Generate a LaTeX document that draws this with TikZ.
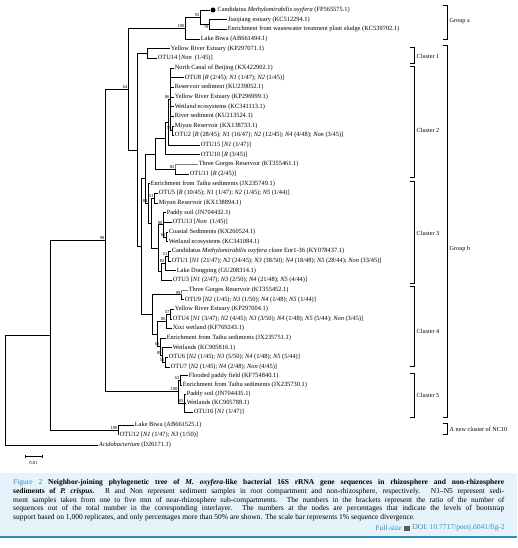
\documentclass[tikz,border=0pt]{standalone}
\usepackage{fontspec}
\setmainfont{Liberation Serif}
\usetikzlibrary{positioning}
\definecolor{capblue}{HTML}{2B8FC6}
\definecolor{capback}{HTML}{E6F3FA}
\tikzset{leaf/.style={anchor=west,inner sep=0.6pt,font=\fontsize{6.4}{7}\selectfont},
         bs/.style={anchor=south east,inner sep=0.4pt,font=\fontsize{4.6}{5}\selectfont},
         branch/.style={line width=0.55pt},
         dot/.style={circle,fill,inner sep=0pt,minimum size=5pt},
         brace/.style={line width=0.7pt},
         grp/.style={anchor=west,inner sep=0.5pt,font=\fontsize{6.2}{7}\selectfont},
         capfont/.style={inner sep=0pt,font=\fontsize{7.5}{8.8}\selectfont}
}

\begin{document}
\begin{tikzpicture}[x=1pt,y=-1pt]
\useasboundingbox (0,0) rectangle (517,548);

% leaves
\node[dot] (d1) at (213,10) {};
\node[leaf,right=1pt of d1] (l1) {Candidatus \textit{Methylomirabilis oxyfera} (FP565575.1)};
\node[leaf] (l2) at (227,19.65) {Jiaojiang estuary (KC512294.1)};
\node[leaf] (l3) at (227,29.3) {Enrichment from wastewater treatment plant sludge (KC539702.1)};
\node[leaf] (l4) at (200,38.95) {Lake Biwa (AB661494.1)};
\node[leaf] (l5) at (170,48.6) {Yellow River Estuary (KP297071.1)};
\node[leaf] (l6) at (157,58.25) {OTU14 [\textit{Non}~~(1/45)]};
\node[leaf] (l7) at (174,67.9) {North Canal of Beijing (KX422902.1)};
\node[leaf] (l8) at (184,77.55) {OTU8 [\textit{R} (2/45); \textit{N1} (1/47); \textit{N2} (1/45)]};
\node[leaf] (l9) at (174,87.2) {Reservoir sediment (KU239052.1)};
\node[leaf] (l10) at (174,96.85) {Yellow River Estuary (KP296999.1)};
\node[leaf] (l11) at (174,106.5) {Wetland ecosystems (KC341113.1)};
\node[leaf] (l12) at (174,116.15) {River sediment (KU213524.1)};
\node[leaf] (l13) at (174,125.8) {Miyun Reservoir (KX138733.1)};
\node[leaf] (l14) at (174,135.45) {OTU2 [\textit{R} (28/45); \textit{N1} (16/47); \textit{N2} (12/45); \textit{N4} (4/48); \textit{Non} (3/45)]};
\node[leaf] (l15) at (200,145.1) {OTU15 [\textit{N1} (1/47)]};
\node[leaf] (l16) at (200,154.75) {OTU10 [\textit{R} (3/45)]};
\node[leaf] (l17) at (198,164.4) {Three Gorges Reservoir (KT355461.1)};
\node[leaf] (l18) at (189,174.05) {OTU11 [\textit{R} (2/45)]};
\node[leaf] (l19) at (150,183.7) {Enrichment from Taihu sediments (JX235749.1)};
\node[leaf] (l20) at (158,193.35) {OTU5 [\textit{R} (10/45); \textit{N1} (1/47); \textit{N2} (1/45); \textit{N5} (1/44)]};
\node[leaf] (l21) at (158,203) {Miyun Reservoir (KX138894.1)};
\node[leaf] (l22) at (166,212.65) {Paddy soil (JN704432.1)};
\node[leaf] (l23) at (172,222.3) {OTU13 [\textit{Non}~~(1/45)]};
\node[leaf] (l24) at (168,231.95) {Coastal Sediments (KX260524.1)};
\node[leaf] (l25) at (168,241.6) {Wetland ecosystems (KC341084.1)};
\node[leaf] (l26) at (171,251.25) {Candidatus \textit{Methylomirabilis oxyfera} clone Enr1-36 (KY078437.1)};
\node[leaf] (l27) at (171,260.9) {OTU1 [\textit{N1} (21/47); \textit{N2} (24/45); \textit{N3} (38/50); \textit{N4} (18/48); \textit{N5} (28/44); \textit{Non} (33/45)]};
\node[leaf] (l28) at (176,270.55) {Lake Dongping (GU208314.1)};
\node[leaf] (l29) at (172,280.2) {OTU3 [\textit{N1} (2/47); \textit{N3} (2/50); \textit{N4} (21/48); \textit{N5} (4/44)]};
\node[leaf] (l30) at (188,289.85) {Three Gorges Reservoir (KT355452.1)};
\node[leaf] (l31) at (184,299.5) {OTU9 [\textit{N2} (1/45); \textit{N3} (1/50); \textit{N4} (1/48); \textit{N5} (1/44)]};
\node[leaf] (l32) at (174,309.15) {Yellow River Estuary (KP297004.1)};
\node[leaf] (l33) at (172,318.8) {OTU4 [\textit{N1} (3/47); \textit{N2} (4/45); \textit{N3} (3/50); \textit{N4} (1/48); \textit{N5} (5/44); \textit{Non} (3/45)]};
\node[leaf] (l34) at (172,328.45) {Xixi wetland (KF769243.1)};
\node[leaf] (l35) at (166,338.1) {Enrichment from Taihu sediments (JX235751.1)};
\node[leaf] (l36) at (172,347.75) {Wetlands (KC905816.1)};
\node[leaf] (l37) at (168,357.4) {OTU6 [\textit{N2} (1/45); \textit{N3} (5/50); \textit{N4} (1/48); \textit{N5} (5/44)]};
\node[leaf] (l38) at (170,367.05) {OTU7 [\textit{N2} (1/45); \textit{N4} (2/48); \textit{Non} (4/45)]};
\node[leaf] (l39) at (188,375.5) {Flooded paddy field (KF754840.1)};
\node[leaf] (l40) at (182,385) {Enrichment from Taihu sediments (JX235730.1)};
\node[leaf] (l41) at (186,394) {Paddy soil (JN704435.1)};
\node[leaf] (l42) at (186,403) {Wetlands (KC905788.1)};
\node[leaf] (l43) at (193,412) {OTU16 [\textit{N1} (1/47)]};
\node[leaf] (l44) at (134,425) {Lake Biwa (AB661525.1)};
\node[leaf] (l45) at (119,434.6) {OTU12 [\textit{N1} (1/47); \textit{N3} (1/50)]};
\node[leaf] (l46) at (98,445) {\textit{Acidobacterium} (D26171.1)};

% inner nodes
\coordinate (n78) at (209,24.48);
\coordinate (n92) at (200,17.24);
\coordinate (nA) at (185,28.1);
\coordinate (nC1) at (147,53.43);
\coordinate (n59) at (172,130.63);
\coordinate (n86) at (170,99.26);
\coordinate (nX) at (168,122.18);
\coordinate (nY) at (165,138.47);
\coordinate (n82) at (175,169.23);
\coordinate (nC2) at (155,153.85);
\coordinate (nP) at (166,236.78);
\coordinate (nQ) at (163,224.71);
\coordinate (n51b) at (168,256.08);
\coordinate (n82b) at (165,263.31);
\coordinate (nR) at (161,271.76);
\coordinate (nS) at (158,248.23);
\coordinate (n51) at (154,198.18);
\coordinate (nT) at (151,223.2);
\coordinate (n84) at (148,203.45);
\coordinate (nC23) at (145,178.65);
\coordinate (n99) at (181,294.68);
\coordinate (n57) at (170,313.98);
\coordinate (n86b) at (166,321.21);
\coordinate (n55) at (165,362.23);
\coordinate (n89) at (162,354.99);
\coordinate (n65) at (160,346.55);
\coordinate (nU) at (157,333.88);
\coordinate (nC4) at (152,314.28);
\coordinate (nG) at (141,246.47);
\coordinate (nF) at (137,149.95);
\coordinate (nE) at (128,89.03);
\coordinate (n62) at (180,380.25);
\coordinate (n65c) at (184,403);
\coordinate (n100c) at (178,391.63);
\coordinate (nD) at (105,240.33);
\coordinate (nNC) at (118,429.8);
\coordinate (nB) at (50,335.07);
\coordinate (nR0) at (5,390);

% branches
\draw[branch] (n92) |- (d1);
\foreach \c in {l2,l3} \draw[branch] (n78) |- (\c);
\draw[branch] (n92) |- (n78);
\draw[branch] (nA) |- (n92);
\draw[branch] (nA) |- (l4);
\foreach \c in {l5,l6} \draw[branch] (nC1) |- (\c);
\foreach \c in {l13,l14} \draw[branch] (n59) |- (\c);
\foreach \c in {l7,l8,l9,l10,l11,l12} \draw[branch] (n86) |- (\c);
\draw[branch] (n86) |- (n59);
\draw[branch] (nX) |- (n86);
\draw[branch] (nX) |- (l15);
\draw[branch] (nY) |- (nX);
\draw[branch] (nY) |- (l16);
\draw[branch,gray] (n82) |- (l17);
\draw[branch] (n82) |- (l18);
\draw[branch] (nC2) |- (nY);
\draw[branch] (nC2) |- (n82);
\foreach \c in {l24,l25} \draw[branch] (nP) |- (\c);
\foreach \c in {l22,l23} \draw[branch] (nQ) |- (\c);
\draw[branch] (nQ) |- (nP);
\foreach \c in {l26,l27} \draw[branch] (n51b) |- (\c);
\draw[branch] (n82b) |- (n51b);
\draw[branch] (n82b) |- (l28);
\draw[branch] (nR) |- (n82b);
\draw[branch] (nR) |- (l29);
\draw[branch] (nS) |- (nQ);
\draw[branch] (nS) |- (nR);
\foreach \c in {l20,l21} \draw[branch] (n51) |- (\c);
\draw[branch] (nT) |- (n51);
\draw[branch] (nT) |- (nS);
\draw[branch] (n84) |- (l19);
\draw[branch] (n84) |- (nT);
\draw[branch] (nC23) |- (nC2);
\draw[branch] (nC23) |- (n84);
\draw[branch,gray] (n99) |- (l30);
\draw[branch] (n99) |- (l31);
\foreach \c in {l32,l33} \draw[branch] (n57) |- (\c);
\draw[branch] (n86b) |- (n57);
\draw[branch] (n86b) |- (l34);
\foreach \c in {l37,l38} \draw[branch] (n55) |- (\c);
\draw[branch] (n89) |- (l36);
\draw[branch] (n89) |- (n55);
\draw[branch] (n65) |- (l35);
\draw[branch] (n65) |- (n89);
\draw[branch] (nU) |- (n86b);
\draw[branch] (nU) |- (n65);
\draw[branch] (nC4) |- (n99);
\draw[branch] (nC4) |- (nU);
\draw[branch] (nG) |- (nC23);
\draw[branch] (nG) |- (nC4);
\draw[branch] (nF) |- (nC1);
\draw[branch] (nF) |- (nG);
\draw[branch] (nE) |- (nA);
\draw[branch] (nE) |- (nF);
\foreach \c in {l39,l40} \draw[branch] (n62) |- (\c);
\foreach \c in {l41,l42,l43} \draw[branch] (n65c) |- (\c);
\draw[branch] (n100c) |- (n62);
\draw[branch] (n100c) |- (n65c);
\draw[branch] (nD) |- (nE);
\draw[branch] (nD) |- (n100c);
\foreach \c in {l44,l45} \draw[branch] (nNC) |- (\c);
\draw[branch] (nB) |- (nD);
\draw[branch] (nB) |- (nNC);
\draw[branch] (nR0) |- (nB);
\draw[branch] (nR0) |- (l46);

% bootstrap values
\node[bs] (b92) at (n92) {92};
\node[bs,anchor=north east] (b78) at (n78) {78};
\node[bs] (b100a) at (nA) {100};
\node[bs] (b64) at (nE) {64};
\node[bs] (b98) at (nD) {98};
\node[bs] (b86) at (n86) {86};
\node[bs] (b59) at (n59) {59};
\node[bs] (b82) at (n82) {82};
\node[bs] (b84) at (n84) {84};
\node[bs] (b51) at (n51) {51};
\node[bs] (b80) at (nQ) {80};
\node[bs] (b61) at (nP) {61};
\node[bs] (b51b) at (n51b) {51};
\node[bs] (b82b) at (n82b) {82};
\node[bs] (b99) at (n99) {99};
\node[bs] (b57) at (n57) {57};
\node[bs] (b86b) at (n86b) {86};
\node[bs] (b65) at (n65) {65};
\node[bs] (b89) at (n89) {89};
\node[bs] (b55) at (n55) {55};
\node[bs] (b62) at (n62) {62};
\node[bs] (b100c) at (n100c) {100};
\node[bs] (b65c) at (n65c) {65};
\node[bs] (b100n) at (nNC) {100};

% scale bar
\coordinate (sb1) at (25,456);
\coordinate (sb2) at (42,456);
\draw[branch] (sb1) -- (sb2);
\draw[branch] ([yshift=-1.5pt]sb1) -- ([yshift=1.5pt]sb1);
\draw[branch] ([yshift=-1.5pt]sb2) -- ([yshift=1.5pt]sb2);
\node[bs,anchor=center] (sbl) at (33.5,463) {0.01};

% clusters and groups
\draw[brace] (443,5) -- (447,5) -- (447,39) -- (443,39);
\node[grp] (ga) at (449,21) {Group a};
\draw[brace] (410,47) -- (414,47) -- (414,63) -- (410,63);
\node[grp] (c1) at (416,56) {Cluster 1};
\draw[brace] (410,66) -- (414,66) -- (414,177) -- (410,177);
\node[grp] (c2) at (416,130) {Cluster 2};
\draw[brace] (410,181) -- (414,181) -- (414,283) -- (410,283);
\node[grp] (c3) at (416,233) {Cluster 3};
\draw[brace] (410,286) -- (414,286) -- (414,366) -- (410,366);
\node[grp] (c4) at (416,331) {Cluster 4};
\draw[brace] (410,373) -- (414,373) -- (414,417) -- (410,417);
\node[grp] (c5) at (416,395) {Cluster 5};
\draw[brace] (443,45) -- (447,45) -- (447,417) -- (443,417);
\node[grp] (gb) at (449,249) {Group b};
\draw[brace] (443,423) -- (447,423) -- (447,434) -- (443,434);
\node[grp] (nc) at (449,429) {A new cluster of NC10};

% caption
\fill[capback] (0,473) rectangle (517,537);
\draw[capblue,line width=1.3pt] (0,537) -- (517,537);
\node[capfont,anchor=north west,align=left] (cap) at (13,479) {%
\makebox[491pt][s]{\textcolor{capblue}{Figure 2} \textbf{Neighbor-joining phylogenetic tree of \textit{M. oxyfera}-like bacterial 16S rRNA gene sequences in rhizosphere and non-rhizosphere}}\\
\makebox[491pt][s]{\textbf{sediments of \textit{P. crispus}.} R and Non represent sediment samples in root compartment and non-rhizosphere, respectively. N1--N5 represent sedi-}\\
\makebox[491pt][s]{ment samples taken from one to five mm of near-rhizosphere sub-compartments. The numbers in the brackets represent the ratio of the number of}\\
\makebox[491pt][s]{sequences out of the total number in the corresponding interlayer. The numbers at the nodes are percentages that indicate the levels of bootstrap}\\
support based on 1,000 replicates, and only percentages more than 50\% are shown. The scale bar represents 1\% sequence divergence.};
\node[capfont,text=capblue,anchor=east] (doi) at (505,528) {DOI: 10.7717/peerj.6041/fig-2};
\node[fill=black!65,minimum width=6pt,minimum height=5pt,inner sep=0pt,left=2pt of doi] (icon) {};
\node[capfont,text=capblue,left=2pt of icon] (full) {Full-size};

\end{tikzpicture}
\end{document}
